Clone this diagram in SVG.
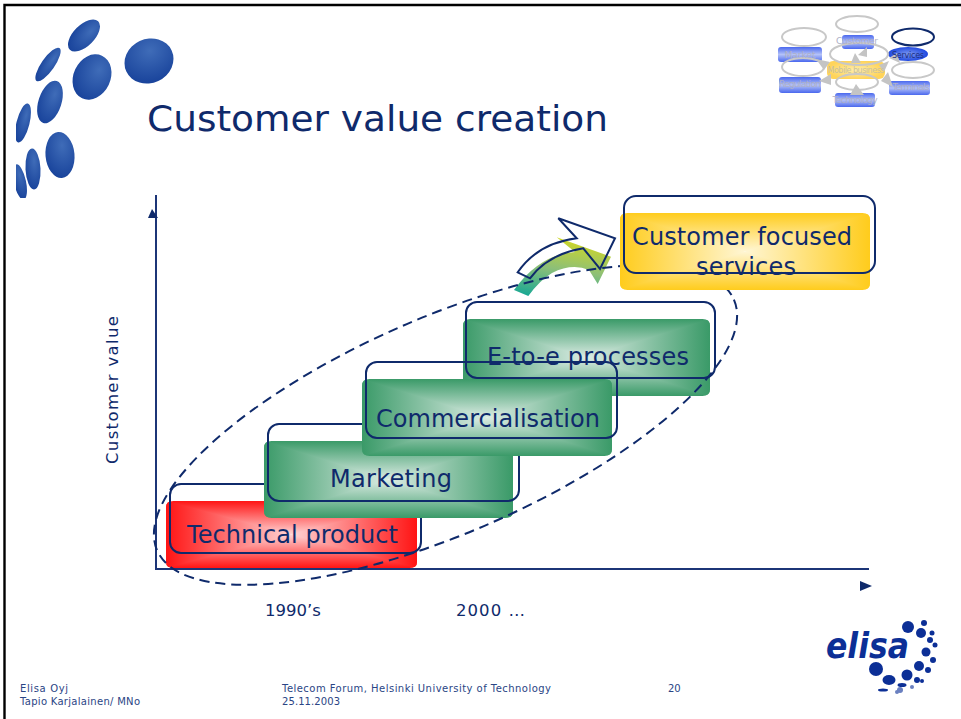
<svg xmlns="http://www.w3.org/2000/svg" xmlns:xlink="http://www.w3.org/1999/xlink" width="961" height="719" viewBox="0 0 961 719">
<style>
text{font-family:"DejaVu Sans",Verdana,sans-serif;fill:#0f2a6b}
.box{font-size:24px;text-anchor:middle}
.lab{font-size:16.5px}
.foot{font-size:10px;fill:#2a4585}
.outline{fill:none;stroke:#0f2a6b;stroke-width:2}
.mini{fill:none;stroke:#c8c8c8;stroke-width:2}
.mt{font-size:9px;text-anchor:middle;fill:#aeb0c6}
.mb{fill:url(#mblue)}
.tri{fill:#c4c4c4}
.dot{fill:url(#ball)}
.eb{fill:#0c2f96}
</style>
<defs>
<radialGradient id="ball" cx="0.6" cy="0.3" r="0.85"><stop offset="0" stop-color="#3f6cb8"/><stop offset="1" stop-color="#123c96"/></radialGradient>
<linearGradient id="mblue" x1="0" y1="0" x2="0" y2="1"><stop offset="0" stop-color="#4a68ee"/><stop offset="0.5" stop-color="#b4c2f8"/><stop offset="1" stop-color="#4a68ee"/></linearGradient>
<radialGradient id="mserv"><stop offset="0" stop-color="#7c98f0"/><stop offset="1" stop-color="#1f48e0"/></radialGradient>
<radialGradient id="myel"><stop offset="0" stop-color="#ffeeaa"/><stop offset="1" stop-color="#ffd45a"/></radialGradient>
<linearGradient id="arrowfill" x1="0.15" y1="1" x2="0.4" y2="0"><stop offset="0" stop-color="#18a894"/><stop offset="0.5" stop-color="#8cbf78"/><stop offset="1" stop-color="#cdd62a"/></linearGradient>

<linearGradient id="gT" x1="0" y1="0" x2="0" y2="1"><stop offset="0" stop-color="#3a9a68"/><stop offset="1" stop-color="#dcece4"/></linearGradient>
<linearGradient id="gB" x1="0" y1="1" x2="0" y2="0"><stop offset="0" stop-color="#3a9a68"/><stop offset="1" stop-color="#dcece4"/></linearGradient>
<linearGradient id="gL" x1="0" y1="0" x2="1" y2="0"><stop offset="0" stop-color="#3a9a68"/><stop offset="1" stop-color="#dcece4"/></linearGradient>
<linearGradient id="gR" x1="1" y1="0" x2="0" y2="0"><stop offset="0" stop-color="#3a9a68"/><stop offset="1" stop-color="#dcece4"/></linearGradient>

<linearGradient id="rT" x1="0" y1="0" x2="0" y2="1"><stop offset="0" stop-color="#ff1414"/><stop offset="1" stop-color="#ffd4d4"/></linearGradient>
<linearGradient id="rB" x1="0" y1="1" x2="0" y2="0"><stop offset="0" stop-color="#ff1414"/><stop offset="1" stop-color="#ffd4d4"/></linearGradient>
<linearGradient id="rL" x1="0" y1="0" x2="1" y2="0"><stop offset="0" stop-color="#ff1414"/><stop offset="1" stop-color="#ffd4d4"/></linearGradient>
<linearGradient id="rR" x1="1" y1="0" x2="0" y2="0"><stop offset="0" stop-color="#ff1414"/><stop offset="1" stop-color="#ffd4d4"/></linearGradient>

<linearGradient id="yT" x1="0" y1="0" x2="0" y2="1"><stop offset="0" stop-color="#ffcc1c"/><stop offset="1" stop-color="#fff6d4"/></linearGradient>
<linearGradient id="yB" x1="0" y1="1" x2="0" y2="0"><stop offset="0" stop-color="#ffcc1c"/><stop offset="1" stop-color="#fff6d4"/></linearGradient>
<linearGradient id="yL" x1="0" y1="0" x2="1" y2="0"><stop offset="0" stop-color="#ffcc1c"/><stop offset="1" stop-color="#fff6d4"/></linearGradient>
<linearGradient id="yR" x1="1" y1="0" x2="0" y2="0"><stop offset="0" stop-color="#ffcc1c"/><stop offset="1" stop-color="#fff6d4"/></linearGradient>

<symbol id="green" viewBox="0 0 100 100" preserveAspectRatio="none">
<g clip-path="url(#cG)"><rect width="100" height="50" fill="url(#gT)"/><rect y="50" width="100" height="50" fill="url(#gB)"/>
<polygon points="0,0 50,50 0,100" fill="url(#gL)"/><polygon points="100,0 50,50 100,100" fill="url(#gR)"/></g></symbol>
<symbol id="red" viewBox="0 0 100 100" preserveAspectRatio="none">
<g clip-path="url(#cG)"><rect width="100" height="50" fill="url(#rT)"/><rect y="50" width="100" height="50" fill="url(#rB)"/>
<polygon points="0,0 50,50 0,100" fill="url(#rL)"/><polygon points="100,0 50,50 100,100" fill="url(#rR)"/></g></symbol>
<symbol id="yellow" viewBox="0 0 100 100" preserveAspectRatio="none">
<g clip-path="url(#cG)"><rect width="100" height="50" fill="url(#yT)"/><rect y="50" width="100" height="50" fill="url(#yB)"/>
<polygon points="0,0 50,50 0,100" fill="url(#yL)"/><polygon points="100,0 50,50 100,100" fill="url(#yR)"/></g></symbol>
<clipPath id="cG"><path d="M3 0H97Q100 0 100 9V91Q100 100 97 100H3Q0 100 0 91V9Q0 0 3 0Z"/></clipPath>
<clipPath id="logoClip"><rect x="16" y="19" width="200" height="179"/></clipPath>
</defs>

<rect width="961" height="719" fill="#fff"/>
<path d="M4.500 719V5H961" fill="none" stroke="#000" stroke-width="2.400"/>

<g id="logo-balls" clip-path="url(#logoClip)">
<ellipse class="dot" cx="149" cy="61" rx="25" ry="22" transform="rotate(-25 149 61)"/>
<ellipse class="dot" cx="92" cy="77" rx="18.500" ry="23.500" transform="rotate(25 92 77)"/>
<ellipse class="dot" cx="84" cy="35.500" rx="10.500" ry="20" transform="rotate(45 84 35.500)"/>
<ellipse class="dot" cx="48" cy="64.500" rx="6.500" ry="20" transform="rotate(35 48 64.500)"/>
<ellipse class="dot" cx="50" cy="102" rx="11.500" ry="22" transform="rotate(18 50 102)"/>
<ellipse class="dot" cx="23" cy="123" rx="6.500" ry="20" transform="rotate(14 23 123)"/>
<ellipse class="dot" cx="60" cy="155" rx="14.500" ry="23" transform="rotate(-5 60 155)"/>
<ellipse class="dot" cx="33" cy="169" rx="7.500" ry="20.500" transform="rotate(-3 33 169)"/>
<ellipse class="dot" cx="20" cy="182" rx="6" ry="18" transform="rotate(-12 20 182)"/>
</g>

<text id="title" x="147" y="131" font-size="36" textLength="461" lengthAdjust="spacingAndGlyphs">Customer value creation</text>

<g id="mini-map">
<ellipse class="mini" cx="857" cy="24" rx="21" ry="8"/>
<ellipse class="mini" cx="804" cy="37" rx="22" ry="9"/>
<ellipse cx="913" cy="37" rx="21" ry="8.500" fill="none" stroke="#0f2a6b" stroke-width="2"/>
<rect class="mb" x="778" y="47" width="44" height="15" rx="3"/>
<rect class="mb" x="842" y="35" width="32" height="14" rx="3"/>
<rect class="mb" x="779" y="77" width="42" height="16" rx="3"/>
<rect class="mb" x="889" y="81" width="41" height="14" rx="3"/>
<rect class="mb" x="835" y="93" width="40" height="14" rx="3"/>
<ellipse cx="908" cy="54" rx="20" ry="7" fill="url(#mserv)"/>
<rect x="827" y="61" width="58" height="18" rx="6" fill="url(#myel)"/>
<ellipse class="mini" cx="859" cy="54" rx="29" ry="11"/>
<ellipse class="mini" cx="803" cy="67" rx="21" ry="9"/>
<ellipse class="mini" cx="913" cy="70" rx="21" ry="8"/>
<ellipse class="mini" cx="857" cy="82" rx="21" ry="8"/>
<polygon class="tri" points="867,47 867,57 858,55"/>
<polygon class="tri" points="855,53 861,63 851,63"/>
<polygon class="tri" points="816,59 830,62 824,70"/>
<polygon class="tri" points="831,85 831,74 819,81"/>
<polygon class="tri" points="900,63 889,58 897,53"/>
<polygon class="tri" points="879,65 889,61 884,72"/>
<polygon class="tri" points="881,81 888,72 893,87"/>
<polygon class="tri" points="856,84 864,95 850,95"/>
<text class="mt" x="800" y="58">Market</text>
<text class="mt" x="857" y="44" textLength="42">Customer</text>
<text class="mt" x="800" y="87" textLength="42">Regulation</text>
<text class="mt" x="908" y="57.500" textLength="32" style="font-size:8px;fill:#1c2f80">Services</text>
<text class="mt" x="856" y="73" textLength="57" style="font-size:8px;fill:#c8c0a0">Mobile business</text>
<text class="mt" x="911" y="90" textLength="37">Terminals</text>
<text class="mt" x="855" y="103" textLength="45">Technology</text>
</g>

<g id="axes" fill="#0f2a6b">
<path d="M156 195V569H869" fill="none" stroke="#1c3577" stroke-width="2"/>
<polygon points="152,209 158,218 148,218"/>
<polygon points="860,581 872,586 860,591"/>
</g>

<g id="node-technical">
<use xlink:href="#red" href="#red" x="166" y="501" width="251" height="67"/>
<rect class="outline" x="170" y="484" width="251" height="69" rx="11"/>
<text class="box" x="292.500" y="543" textLength="211">Technical product</text>
</g>
<g id="node-marketing">
<use xlink:href="#green" href="#green" x="264" y="441" width="249" height="77"/>
<rect class="outline" x="268" y="424" width="251" height="77" rx="11"/>
<text class="box" x="391" y="487" textLength="122">Marketing</text>
</g>
<g id="node-e2e">
<use xlink:href="#green" href="#green" x="463" y="319" width="247" height="77"/>
<rect class="outline" x="466" y="302" width="249" height="76" rx="11"/>
<text class="box" x="588" y="365" textLength="202">E-to-e processes</text>
</g>
<g id="node-commercialisation">
<use xlink:href="#green" href="#green" x="362" y="379" width="250" height="77"/>
<rect class="outline" x="366" y="362" width="251" height="76" rx="11"/>
<text class="box" x="488" y="427" textLength="224">Commercialisation</text>
</g>

<g id="connectors">
<path d="M514 290L528.300 296Q540 280 552 273Q572 263 589 270L597.700 284L611 256.700L556.700 237.300L575 252Q540 254 514 290Z" fill="url(#arrowfill)"/>
<ellipse cx="445.500" cy="425" rx="314.500" ry="108" transform="rotate(-23.500 445.500 425)" fill="none" stroke="#0f2a6b" stroke-width="2" stroke-dasharray="10 6"/>
<path d="M517.700 272.300L530 278.300Q548 254 583.300 248.300L600 269L615 238.300L558.300 218.300L576.700 238.300Q538 243 517.700 272.300Z" fill="none" stroke="#0f2a6b" stroke-width="2"/>
</g>

<g id="node-customer">
<use xlink:href="#yellow" href="#yellow" x="620" y="213" width="250" height="77"/>
<rect class="outline" x="624" y="196" width="251" height="77" rx="12"/>
<text class="box" x="742" y="245" textLength="220">Customer focused</text>
<text class="box" x="746" y="275" textLength="100">services</text>
</g>

<text class="lab" transform="translate(118 464) rotate(-90)" textLength="148">Customer value</text>
<text class="lab" x="265" y="616">1990’s</text>
<text class="lab" x="456" y="616" textLength="69">2000 …</text>

<g id="elisa-logo">
<text x="826" y="658" style="font-weight:bold;font-style:italic;fill:#0c2f96" font-size="35" textLength="83" lengthAdjust="spacingAndGlyphs">elisa</text>
<circle class="eb" cx="908" cy="627" r="6"/><circle class="eb" cx="921" cy="633" r="5"/><circle class="eb" cx="926" cy="652" r="4.500"/><circle class="eb" cx="919" cy="666" r="5"/><circle class="eb" cx="907" cy="675" r="5.500"/><ellipse class="eb" cx="889" cy="680" rx="6.500" ry="5"/><circle class="eb" cx="876" cy="669" r="7"/>
<circle class="eb" cx="924" cy="623" r="3"/><circle class="eb" cx="932" cy="633" r="2.500"/><circle class="eb" cx="930" cy="640" r="3"/><circle class="eb" cx="935" cy="645" r="2.500"/><circle class="eb" cx="933" cy="660" r="3"/><circle class="eb" cx="928" cy="670" r="3"/><circle class="eb" cx="917" cy="680" r="3"/><circle class="eb" cx="922" cy="681" r="2"/><ellipse class="eb" cx="902" cy="685" rx="4.500" ry="2"/><circle cx="900" cy="690" r="3" fill="#6a80c0"/><circle cx="912" cy="687" r="2" fill="#6a80c0"/><ellipse class="eb" cx="883" cy="690" rx="5" ry="1.500"/><circle cx="897" cy="692" r="2" fill="#6a80c0"/>
</g>

<g id="footer">
<text class="foot" x="20" y="692" textLength="48">Elisa Oyj</text>
<text class="foot" x="20" y="705" textLength="120">Tapio Karjalainen/ MNo</text>
<text class="foot" x="282" y="692" textLength="269">Telecom Forum, Helsinki University of Technology</text>
<text class="foot" x="282" y="705" textLength="58">25.11.2003</text>
<text class="foot" x="668" y="692">20</text>
</g>
</svg>
